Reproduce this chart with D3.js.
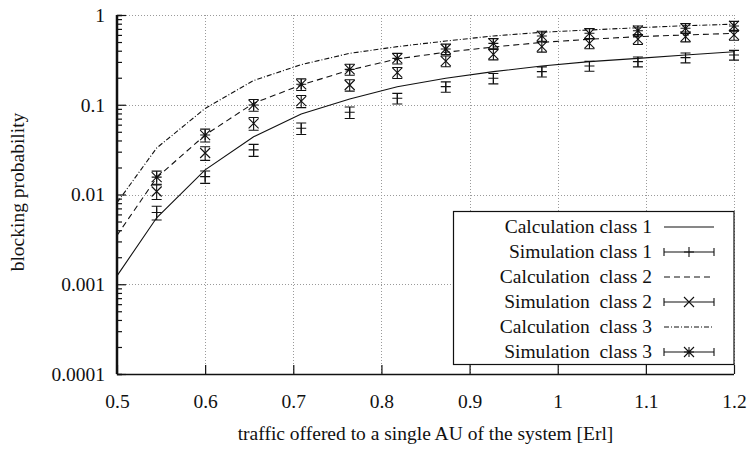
<!DOCTYPE html>
<html>
<head>
<meta charset="utf-8">
<script src="https://cdn.jsdelivr.net/npm/d3@7"></script>
<style>
    body { margin: 0; background: #fff; }
    svg, svg text { font-family: "Liberation Serif", "DejaVu Serif", "Times New Roman", serif; }
    svg text { fill: #111; white-space: pre; }
</style>
</head>
<body>
<div id="chart"></div>
<script>
// Blocking probability vs offered traffic - calculation vs simulation

// Data
const calcX = [0.5, 0.545, 0.6, 0.655, 0.709, 0.764, 0.818, 0.873, 0.927, 0.982, 1.036, 1.091, 1.145, 1.2];
const calc1 = [0.00124, 0.0055, 0.0188, 0.044, 0.079, 0.116, 0.159, 0.197, 0.234, 0.27, 0.302, 0.329, 0.359, 0.39];
const calc2 = [0.0035, 0.0154, 0.046, 0.104, 0.166, 0.244, 0.324, 0.385, 0.44, 0.495, 0.537, 0.574, 0.599, 0.625];
const calc3 = [0.0081, 0.033, 0.091, 0.186, 0.28, 0.374, 0.444, 0.513, 0.584, 0.641, 0.681, 0.722, 0.76, 0.79];

const simX = [0.545, 0.6, 0.655, 0.709, 0.764, 0.818, 0.873, 0.927, 0.982, 1.036, 1.091, 1.145, 1.2];
const sim1 = [0.0063, 0.0158, 0.0314, 0.0547, 0.0824, 0.118, 0.159, 0.197, 0.234, 0.27, 0.302, 0.335, 0.359];
const err1 = [0.0011, 0.0025, 0.0048, 0.008, 0.012, 0.016, 0.021, 0.026, 0.03, 0.034, 0.038, 0.042, 0.045];
const sim2 = [0.0108, 0.029, 0.062, 0.11, 0.166, 0.228, 0.307, 0.365, 0.444, 0.483, 0.537, 0.574, 0.599];
const err2 = [0.002, 0.005, 0.01, 0.017, 0.024, 0.032, 0.042, 0.049, 0.058, 0.062, 0.068, 0.072, 0.075];
const sim3 = [0.0156, 0.046, 0.0995, 0.169, 0.248, 0.329, 0.418, 0.483, 0.584, 0.625, 0.668, 0.711, 0.755];
const err3 = [0.0026, 0.0075, 0.015, 0.025, 0.035, 0.045, 0.056, 0.063, 0.075, 0.08, 0.085, 0.09, 0.095];

const xTicks = [0.5, 0.6, 0.7, 0.8, 0.9, 1, 1.1, 1.2];
const yTicks = [0.0001, 0.001, 0.01, 0.1, 1];
const yTickLabels = ['0.0001', '0.001', '0.01', '0.1', '1'];

const legendLabels = [
    'Calculation class 1',
    'Simulation class 1',
    'Calculation  class 2',
    'Simulation  class 2',
    'Calculation  class 3',
    'Simulation  class 3'
];

const config = {
    width: 752,
    height: 453,
    margin: { top: 15, right: 18, bottom: 79, left: 117 },
    ink: '#111',
    grid: '#9a9a9a',
    font: '"Liberation Serif", "DejaVu Serif", serif',
    fontSize: 19.5
};

// marker shapes (gnuplot style point types)
const markerPaths = {
    plus: 'M-5,0H5M0,-5V5',
    cross: 'M-5,-5L5,5M-5,5L5,-5',
    star: 'M-5,0H5M0,-5V5M-5,-5L5,5M-5,5L5,-5'
};

const calcSeries = [
    { values: calc1, dash: null },
    { values: calc2, dash: '6,4' },
    { values: calc3, dash: '5,2,1,2' }
];
const simSeries = [
    { values: sim1, err: err1, marker: 'plus' },
    { values: sim2, err: err2, marker: 'cross' },
    { values: sim3, err: err3, marker: 'star' }
];

const m = config.margin;
const w = config.width - m.left - m.right;
const h = config.height - m.top - m.bottom;

const svg = d3.select('#chart').append('svg')
    .attr('width', config.width)
    .attr('height', config.height)
    .attr('font-family', config.font);

const g = svg.append('g').attr('transform', `translate(${m.left},${m.top})`);

const x = d3.scaleLinear().domain([0.5, 1.2]).range([0, w]);
const y = d3.scaleLog().domain([0.0001, 1]).range([h, 0]);

// Grid lines (dotted)
const grid = g.append('g').attr('class', 'grid')
    .attr('stroke', config.grid)
    .attr('stroke-width', 1)
    .attr('stroke-dasharray', '1,2');

grid.selectAll('.gx').data(xTicks.slice(1)).enter().append('line')
    .attr('x1', d => Math.round(x(d)) + 0.5).attr('x2', d => Math.round(x(d)) + 0.5)
    .attr('y1', 0).attr('y2', h);

grid.selectAll('.gy').data(yTicks.slice(1)).enter().append('line')
    .attr('x1', 0).attr('x2', w)
    .attr('y1', d => Math.round(y(d)) + 0.5).attr('y2', d => Math.round(y(d)) + 0.5);

// Axes
const xAxis = d3.axisBottom(x).tickValues(xTicks).tickSize(-9).tickPadding(20)
    .tickFormat(d3.format('~g'));
const gx = g.append('g').attr('transform', `translate(0,${h})`).call(xAxis);

const minorTicks = [];
yTicks.slice(0, -1).forEach(t => {
    for (let k = 2; k <= 9; k++) minorTicks.push(t * k);
});
const yMinor = d3.axisLeft(y).tickValues(minorTicks).tickSize(-5).tickFormat('');
g.append('g').call(yMinor);

const yAxis = d3.axisLeft(y).tickValues(yTicks).tickSize(-9).tickPadding(12)
    .tickFormat((d, i) => yTickLabels[i]);
const gy = g.append('g').call(yAxis);

g.selectAll('g').attr('font-family', config.font);
g.selectAll('.domain').attr('stroke', config.ink).attr('stroke-width', 1.5);
g.selectAll('.tick line').attr('stroke', config.ink).attr('stroke-width', 1.2);
g.selectAll('.tick text')
    .style('font-family', config.font)
    .style('font-size', config.fontSize + 'px')
    .attr('fill', config.ink);
// plain axis lines, no outer ticks
gx.select('.domain').attr('d', `M0,0.5H${w}`);
gy.select('.domain').attr('d', `M-0.5,0V${h}`);

// Calculation lines
const line = d3.line()
    .x((d, i) => x(calcX[i]))
    .y(d => y(d));

g.selectAll('.calc').data(calcSeries).enter().append('path')
    .attr('class', 'calc')
    .attr('d', d => line(d.values))
    .attr('fill', 'none')
    .attr('stroke', config.ink)
    .attr('stroke-width', 1.1)
    .attr('stroke-dasharray', d => d.dash);

// Simulation points with error bars
simSeries.forEach(s => {
    const pts = g.append('g').selectAll('g').data(s.values).enter().append('g')
        .attr('transform', (d, i) => `translate(${x(simX[i])},${y(d)})`);

    pts.append('path')
        .attr('d', (d, i) => {
            const top = y(d + s.err[i]) - y(d);
            const bot = y(d - s.err[i]) - y(d);
            return `M0,${top}V${bot}M-5,${top}H5M-5,${bot}H5`;
        })
        .attr('fill', 'none')
        .attr('stroke', config.ink)
        .attr('stroke-width', 1.1);

    pts.append('path')
        .attr('d', markerPaths[s.marker])
        .attr('fill', 'none')
        .attr('stroke', config.ink)
        .attr('stroke-width', 1.1);
});

// Legend
const legX = 336;
const legend = g.append('g').attr('class', 'legend')
    .attr('transform', `translate(${legX}, ${h - 163})`);
const legW = w - legX;

legend.append('rect')
    .attr('x', 0.5).attr('y', 0.5)
    .attr('width', legW - 0.5).attr('height', 153)
    .attr('fill', '#fff')
    .attr('stroke', config.ink)
    .attr('stroke-width', 1.2);

const items = legend.selectAll('.legend-item').data(legendLabels).enter().append('g')
    .attr('class', 'legend-item')
    .attr('transform', (d, i) => `translate(0, ${16 + i * 25})`);

items.append('text')
    .attr('x', 199)
    .attr('y', 6)
    .attr('text-anchor', 'end')
    .style('font-family', config.font)
    .style('font-size', config.fontSize + 'px')
    .text(d => d);

items.each(function(d, i) {
    const item = d3.select(this);
    const x0 = 211, x1 = 261;
    if (i % 2 === 0) {
        item.append('line')
            .attr('x1', x0).attr('x2', x1).attr('y1', 0).attr('y2', 0)
            .attr('stroke', config.ink).attr('stroke-width', 1.1)
            .attr('stroke-dasharray', calcSeries[i / 2].dash);
    } else {
        const s = simSeries[(i - 1) / 2];
        item.append('path')
            .attr('d', `M${x0},0H${x1}M${x0},-4V4M${x1},-4V4`)
            .attr('fill', 'none').attr('stroke', config.ink).attr('stroke-width', 1.1);
        item.append('path')
            .attr('transform', `translate(${(x0 + x1) / 2},0)`)
            .attr('d', markerPaths[s.marker])
            .attr('fill', 'none').attr('stroke', config.ink).attr('stroke-width', 1.1);
    }
});

// Axis titles
svg.append('text')
    .attr('x', m.left + w / 2)
    .attr('y', 440)
    .attr('text-anchor', 'middle')
    .style('font-family', config.font)
    .style('font-size', config.fontSize + 'px')
    .text('traffic offered to a single AU of the system [Erl]');

svg.append('text')
    .attr('transform', 'translate(24, 192) rotate(-90)')
    .attr('text-anchor', 'middle')
    .style('font-family', config.font)
    .style('font-size', config.fontSize + 'px')
    .text('blocking probability');
</script>
</body>
</html>
